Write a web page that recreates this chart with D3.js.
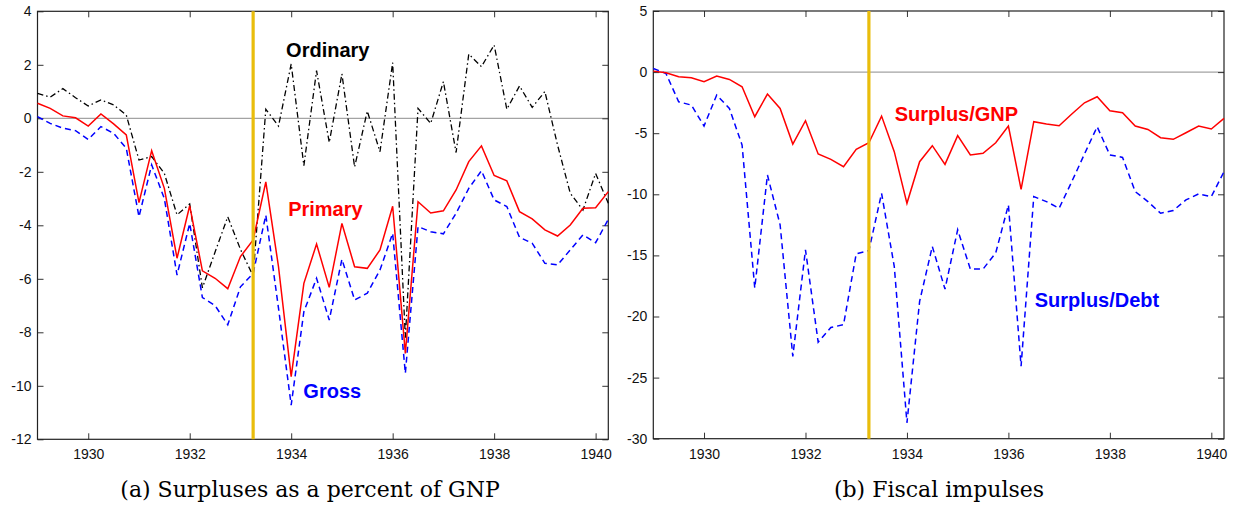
<!DOCTYPE html>
<html>
<head>
<meta charset="utf-8">
<script src="https://cdn.jsdelivr.net/npm/d3@7"></script>
<style>
  body { margin: 0; background: #fff; }
  svg text { font-family: "Liberation Sans", Arial, Helvetica, sans-serif; }
</style>
</head>
<body>
<svg id="chart" width="1233" height="506"></svg>
<script>
// quarterly dates, 1929Q1 .. 1940Q2
var quarters = [1929.00, 1929.25, 1929.50, 1929.75, 1930.00, 1930.25, 1930.50, 1930.75,
                1931.00, 1931.25, 1931.50, 1931.75, 1932.00, 1932.25, 1932.50, 1932.75,
                1933.00, 1933.25, 1933.50, 1933.75, 1934.00, 1934.25, 1934.50, 1934.75,
                1935.00, 1935.25, 1935.50, 1935.75, 1936.00, 1936.25, 1936.50, 1936.75,
                1937.00, 1937.25, 1937.50, 1937.75, 1938.00, 1938.25, 1938.50, 1938.75,
                1939.00, 1939.25, 1939.50, 1939.75, 1940.00, 1940.25];

// panel (a): surpluses as a percent of GNP
var ordinary = [0.93, 0.79, 1.11, 0.77, 0.46, 0.69, 0.50, 0.12, -1.56, -1.43, -2.06, -3.61,
                -3.20, -6.34, -5.00, -3.68, -4.90, -5.90, 0.34, -0.29, 2.03, -1.77, 1.78, -0.90,
                1.66, -1.82, 0.27, -1.25, 2.08, -8.20, 0.37, -0.19, 1.37, -1.28, 2.40, 1.93,
                2.74, 0.34, 1.21, 0.41, 1.00, -1.00, -2.80, -3.43, -2.06, -3.18];
var primary = [0.56, 0.37, 0.09, 0.02, -0.29, 0.16, -0.21, -0.62, -3.15, -1.21, -2.62, -5.23,
               -3.27, -5.70, -5.98, -6.37, -5.17, -4.55, -2.38, -5.55, -9.66, -6.17, -4.70, -6.32,
               -3.93, -5.55, -5.61, -4.92, -3.29, -8.79, -3.12, -3.54, -3.46, -2.68, -1.62, -1.03,
               -2.14, -2.34, -3.49, -3.76, -4.17, -4.40, -3.99, -3.36, -3.34, -2.74];
var gross = [0.06, -0.19, -0.37, -0.46, -0.79, -0.31, -0.56, -1.12, -3.68, -1.74, -3.00, -5.86,
             -3.93, -6.70, -7.00, -7.72, -6.30, -5.80, -3.62, -7.10, -10.72, -7.23, -5.98, -7.54,
             -5.27, -6.79, -6.54, -5.67, -4.30, -9.53, -4.05, -4.24, -4.32, -3.55, -2.62, -1.96,
             -3.05, -3.30, -4.45, -4.67, -5.42, -5.48, -4.92, -4.36, -4.65, -3.78];

// panel (b): fiscal impulses
var surplusGnp = [0.08, -0.05, -0.38, -0.46, -0.79, -0.33, -0.60, -1.20, -3.65, -1.80, -2.97, -5.89,
                  -3.98, -6.70, -7.14, -7.74, -6.32, -5.78, -3.60, -6.51, -10.74, -7.33, -6.02, -7.55,
                  -5.20, -6.78, -6.65, -5.78, -4.41, -9.59, -4.06, -4.25, -4.39, -3.43, -2.51, -2.02,
                  -3.16, -3.32, -4.41, -4.69, -5.37, -5.50, -4.96, -4.41, -4.66, -3.79];
var surplusDebt = [0.30, -0.11, -2.43, -2.70, -4.41, -1.88, -2.97, -5.97, -17.67, -8.42, -12.50, -23.26,
                   -14.54, -22.10, -20.90, -20.67, -14.87, -14.60, -9.92, -15.90, -28.70, -18.76, -14.27, -17.76,
                   -12.90, -16.12, -16.12, -14.80, -10.87, -24.07, -10.19, -10.60, -11.14, -8.96, -6.70, -4.47,
                   -6.78, -6.98, -9.78, -10.60, -11.55, -11.33, -10.46, -9.97, -10.19, -8.15];

var xTicks = [1930, 1932, 1934, 1936, 1938, 1940];
var yTicksA = [-12, -10, -8, -6, -4, -2, 0, 2, 4];
var yTicksB = [-30, -25, -20, -15, -10, -5, 0, 5];
var regimeDate = 1933.25;

// label anchors [x date, y value]
var labelOrdinary = [1933.90, 2.28];
var labelPrimary = [1933.94, -3.65];
var labelGross = [1934.24, -10.47];
var labelSurpGnp = [1933.76, -3.98];
var labelSurpDebt = [1936.52, -19.22];

var captionA = "(a) Surpluses as a percent of GNP";
var captionB = "(b) Fiscal impulses";

var svg = d3.select('#chart');

function drawPanel(p) {
    var x = d3.scaleLinear().domain([1929, 1940.25]).range([p.left, p.right]);
    var y = d3.scaleLinear().domain(p.yDomain).range([p.bottom, p.top]);
    var g = svg.append('g');
    var tick = 6;
    var plain = function(d) { return String(d); };  // hyphen minus, like the original

    // zero line
    g.append('line')
        .attr('x1', p.left).attr('x2', p.right)
        .attr('y1', y(0)).attr('y2', y(0))
        .attr('stroke', '#8c8c8c').attr('stroke-width', 1);

    // inward ticks on all four sides
    var bottom = g.append('g').attr('transform', 'translate(0,' + p.bottom + ')')
        .call(d3.axisBottom(x).tickValues(xTicks).tickFormat(plain)
              .tickSizeInner(-tick).tickSizeOuter(0).tickPadding(10));
    var top = g.append('g').attr('transform', 'translate(0,' + p.top + ')')
        .call(d3.axisTop(x).tickValues(xTicks).tickFormat('')
              .tickSizeInner(-tick).tickSizeOuter(0));
    var left = g.append('g').attr('transform', 'translate(' + p.left + ',0)')
        .call(d3.axisLeft(y).tickValues(p.yTicks).tickFormat(plain)
              .tickSizeInner(-tick).tickSizeOuter(0).tickPadding(6));
    var right = g.append('g').attr('transform', 'translate(' + p.right + ',0)')
        .call(d3.axisRight(y).tickValues(p.yTicks).tickFormat('')
              .tickSizeInner(-tick).tickSizeOuter(0));

    [bottom, top, left, right].forEach(function(a) {
        a.select('.domain').remove();
        a.selectAll('line').attr('stroke', '#333');
        a.selectAll('text').attr('fill', '#111')
            .style('font-size', '14px');
    });

    // frame
    g.append('rect')
        .attr('x', p.left).attr('y', p.top)
        .attr('width', p.right - p.left).attr('height', p.bottom - p.top)
        .attr('fill', 'none').attr('stroke', '#222').attr('stroke-width', 1.2);

    // series
    var line = d3.line()
        .x(function(d, i) { return x(quarters[i]); })
        .y(function(d) { return y(d); });

    p.series.forEach(function(s) {
        g.append('path')
            .datum(s.values)
            .attr('d', line)
            .attr('fill', 'none')
            .attr('stroke', s.color)
            .attr('stroke-width', s.width)
            .attr('stroke-dasharray', s.dash)
            .attr('stroke-linejoin', 'miter');
    });

    // regime change marker
    g.append('line')
        .attr('x1', x(regimeDate)).attr('x2', x(regimeDate))
        .attr('y1', p.top).attr('y2', p.bottom)
        .attr('stroke', '#e9bd0c').attr('stroke-width', 3.2);

    p.labels.forEach(function(l) {
        g.append('text')
            .attr('x', x(l.pos[0])).attr('y', y(l.pos[1]))
            .attr('fill', l.color)
            .style('font-size', '20px')
            .style('font-weight', 'bold')
            .text(l.text);
    });

    svg.append('text')
        .attr('x', p.captionX).attr('y', 497)
        .attr('text-anchor', 'middle')
        .style('font-family', '"DejaVu Serif", "Liberation Serif", serif')
        .style('font-size', '22px')
        .text(p.caption);
}

drawPanel({
    left: 37.5, right: 608.3, top: 11.3, bottom: 439.3,
    yDomain: [-12, 4], yTicks: yTicksA,
    series: [
        { values: ordinary, color: '#000', width: 1.3, dash: '6,3,1.5,3' },
        { values: gross, color: '#0000ff', width: 1.5, dash: '6,4' },
        { values: primary, color: '#ff0000', width: 1.5, dash: null }
    ],
    labels: [
        { text: 'Ordinary', pos: labelOrdinary, color: '#000' },
        { text: 'Primary', pos: labelPrimary, color: '#ff0000' },
        { text: 'Gross', pos: labelGross, color: '#0000ff' }
    ],
    caption: captionA, captionX: 310
});

drawPanel({
    left: 653.3, right: 1224, top: 11, bottom: 438.7,
    yDomain: [-30, 5], yTicks: yTicksB,
    series: [
        { values: surplusDebt, color: '#0000ff', width: 1.5, dash: '6,4' },
        { values: surplusGnp, color: '#ff0000', width: 1.5, dash: null }
    ],
    labels: [
        { text: 'Surplus/GNP', pos: labelSurpGnp, color: '#ff0000' },
        { text: 'Surplus/Debt', pos: labelSurpDebt, color: '#0000ff' }
    ],
    caption: captionB, captionX: 939
});
</script>
</body>
</html>
